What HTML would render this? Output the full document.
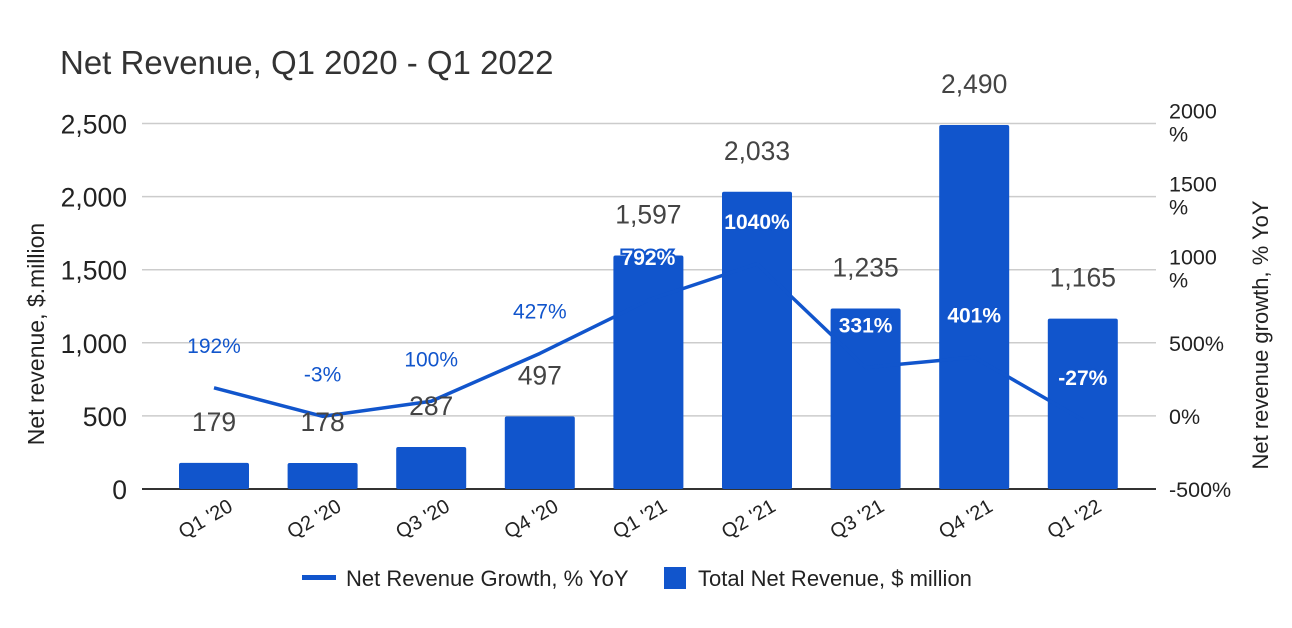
<!DOCTYPE html>
<html><head><meta charset="utf-8"><style>
body{margin:0;background:#fff;}
svg text{font-family:"Liberation Sans",Arial,sans-serif;}
</style></head><body>
<svg id="chart" width="1292" height="623" viewBox="0 0 1292 623" xmlns="http://www.w3.org/2000/svg">
<rect width="1292" height="623" fill="#fff"/>
<text x="60" y="74" font-size="33" fill="#333">Net Revenue, Q1 2020 - Q1 2022</text>
<g id="grid"></g><g id="bars"></g><g id="line"></g><g id="labels"></g><g id="axes"></g>
<text transform="translate(44,334) rotate(-90)" text-anchor="middle" font-size="23" fill="#222">Net revenue, $.million</text>
<text transform="translate(1268,335) rotate(-90)" text-anchor="middle" font-size="22" fill="#222">Net revenue growth, % YoY</text>
<g>
<rect x="302" y="575" width="34" height="5" fill="#1155cc"/>
<text x="346" y="586" font-size="22" fill="#222">Net Revenue Growth, % YoY</text>
<rect x="664" y="567" width="22" height="22" fill="#1155cc"/>
<text x="698" y="586" font-size="22" fill="#222">Total Net Revenue, $ million</text>
</g>
</svg>
<script>
const categories = ["Q1 '20","Q2 '20","Q3 '20","Q4 '20","Q1 '21","Q2 '21","Q3 '21","Q4 '21","Q1 '22"];
const revenue = [179,178,287,497,1597,2033,1235,2490,1165];
const growth = [192,-3,100,427,792,1040,331,401,-27];
const leftTicks = [0,500,1000,1500,2000,2500];
const rightTicks = [-500,0,500,1000,1500,2000];
const NS="http://www.w3.org/2000/svg";
const X0=142,X1=1156,Y0=489,Y1=123.5;
const yL=v=>Y0-(v/2500)*(Y0-Y1);
const yR=v=>Y0-((v+500)/2500)*(Y0-Y1);
const band=108.6;
const xC=i=>214+band*i;
function mk(tag,attrs,parent,text){const e=document.createElementNS(NS,tag);for(const k in attrs)e.setAttribute(k,attrs[k]);if(text!==undefined)e.textContent=text;document.getElementById(parent).appendChild(e);return e;}
const fmt=v=>v.toLocaleString('en-US');
leftTicks.forEach(t=>{
  const g=mk('line',{x1:X0,x2:X1,y1:yL(t),y2:yL(t),stroke:t===0?'#333':'#ccc','stroke-width':t===0?2:1.5},'grid');
  
  
  const l=mk('text',{x:127,y:yL(t)+10,'text-anchor':'end','font-size':26.5,fill:'#222'},'axes',fmt(t));
  
  
});
rightTicks.forEach(t=>{
  const y=yR(t);
  const l=mk('text',{x:1169,'font-size':21.5,fill:'#222'},'axes');
  
  
  if(Math.abs(t)>=1000){
    l.setAttribute('y',y-5);
    const a=document.createElementNS(NS,'tspan');a.textContent=t+'';l.appendChild(a);
    const b=document.createElementNS(NS,'tspan');b.setAttribute('x',1169);b.setAttribute('dy',23);b.textContent='%';l.appendChild(b);
  } else {l.setAttribute('y',y+8);l.textContent=t+'%';}
});
const bw=70;
revenue.forEach((v,i)=>{
  const b=mk('rect',{x:xC(i)-bw/2,y:yL(v),width:bw,height:Y0-yL(v),fill:'#1155cc',rx:2},'bars');
  
  
  const t=mk('text',{x:xC(i),y:yL(v)-32,'text-anchor':'middle','font-size':26.5,fill:'#444'},'labels',fmt(v));
  
  
  const xl=mk('text',{transform:`translate(${xC(i)+20},${510}) rotate(-30)`,'text-anchor':'end','font-size':20,fill:'#222'},'axes',categories[i]);
  
  
});
const pts=growth.map((g,i)=>xC(i)+','+yR(g)).join(' ');
const pl=mk('polyline',{points:pts,fill:'none',stroke:'#1155cc','stroke-width':3.5,'stroke-linejoin':'round'},'line');


growth.forEach((g,i)=>{
  const y=yR(g)-35;
  const inside=y>yL(revenue[i]);
  const t=mk('text',{x:xC(i),y:y,'text-anchor':'middle','font-size':21,fill:inside?'#fff':'#1155cc'},'labels',g+'%');
  if(inside){t.setAttribute('stroke','#1155cc');t.setAttribute('stroke-width',4);t.setAttribute('paint-order','stroke');t.setAttribute('font-weight','bold');}
  
  
});
</script>
</body></html>
